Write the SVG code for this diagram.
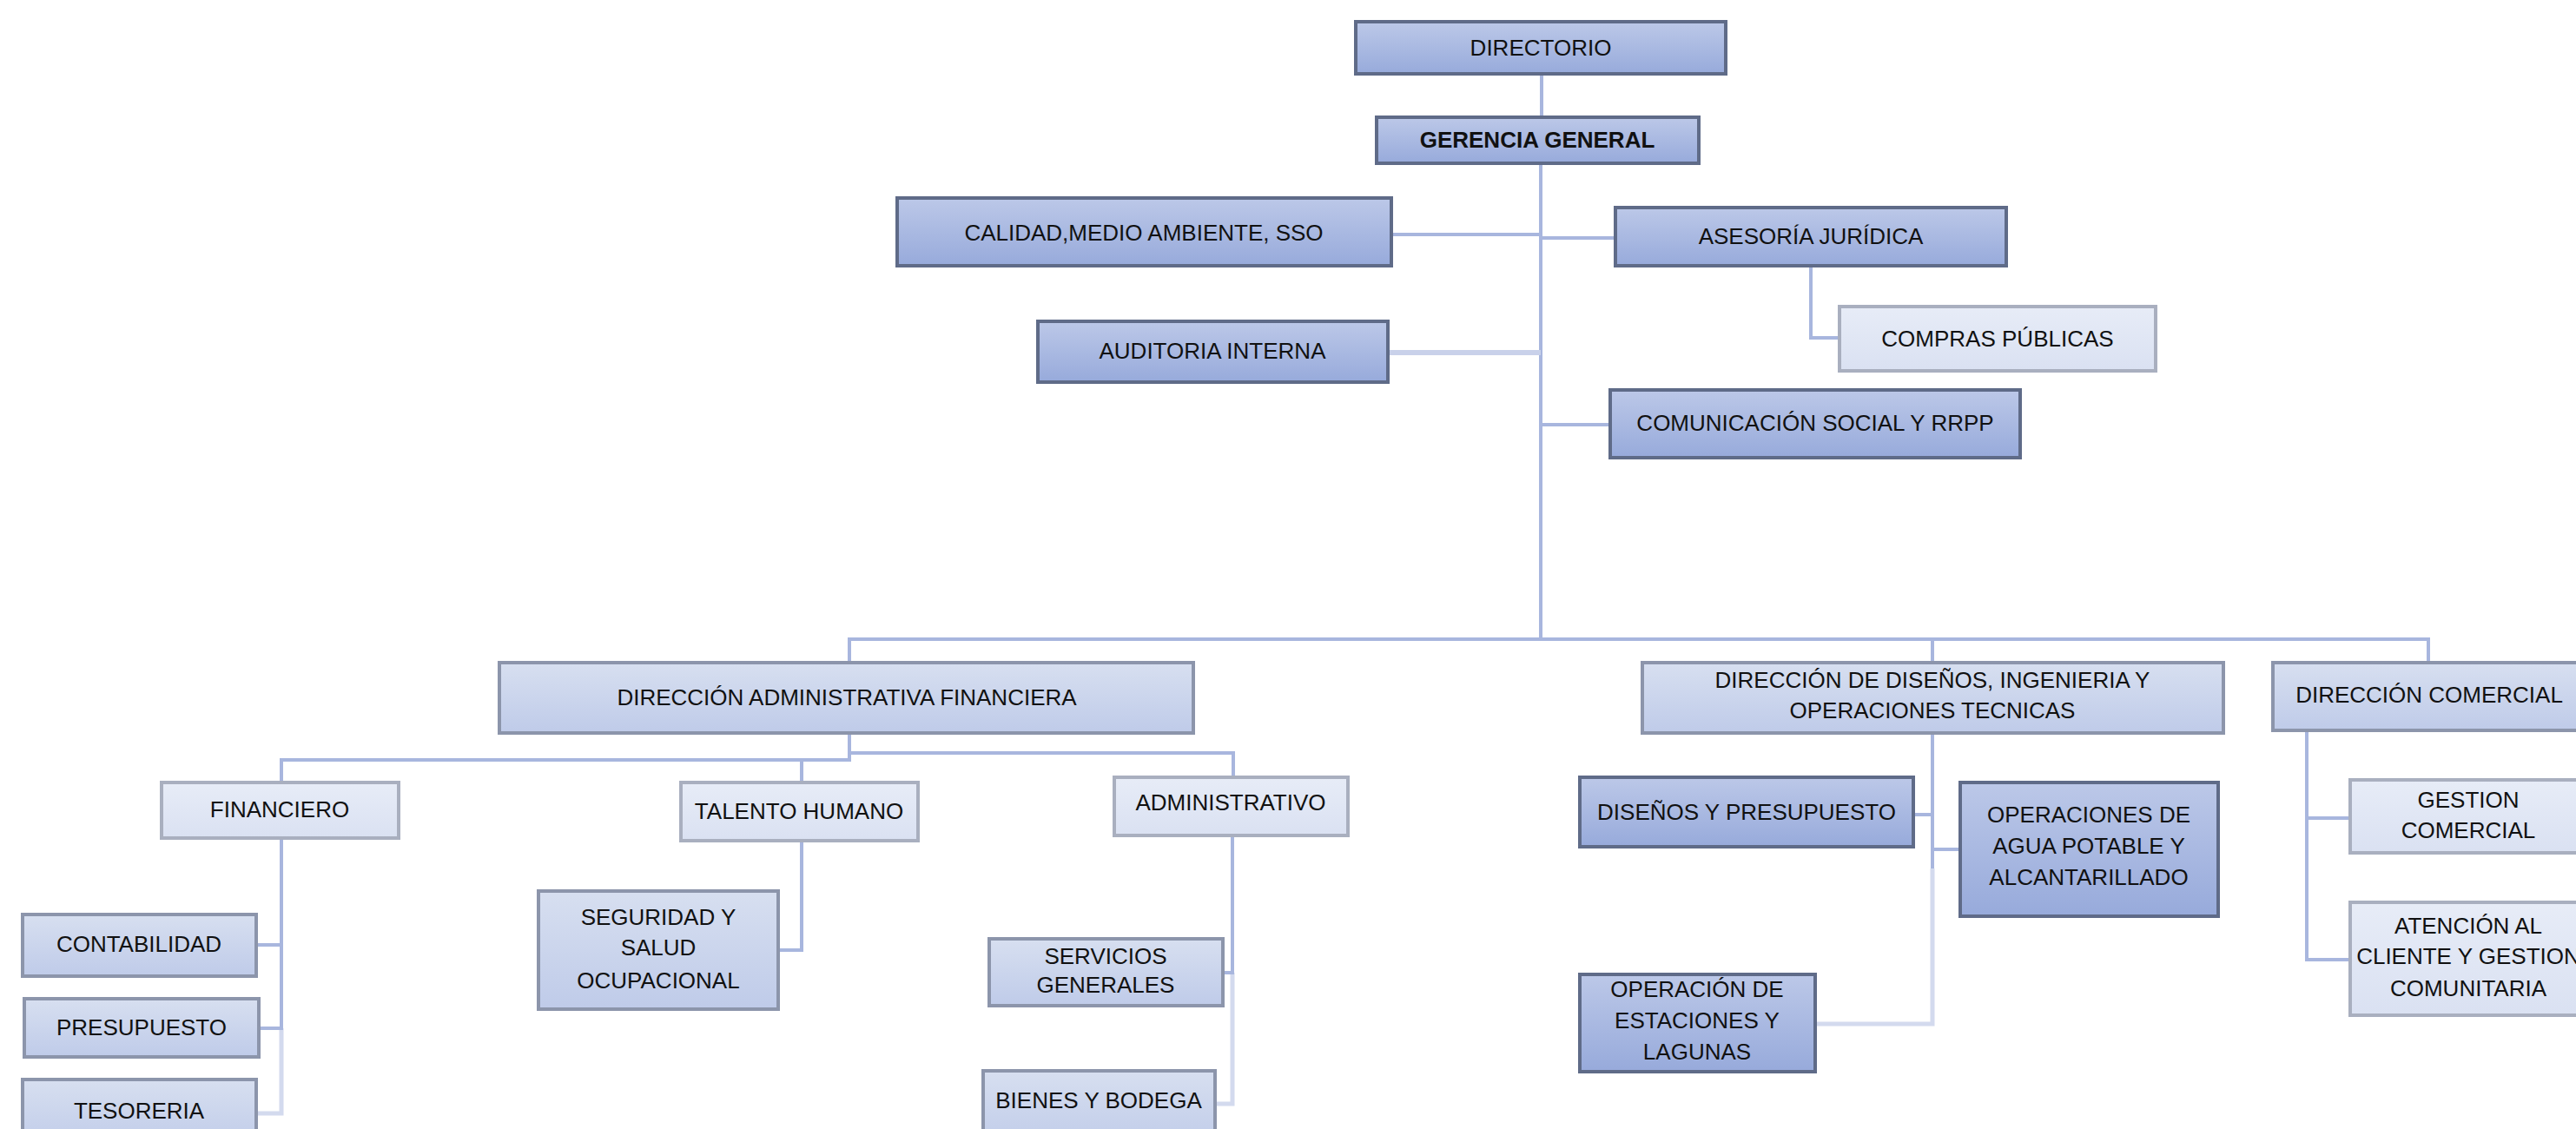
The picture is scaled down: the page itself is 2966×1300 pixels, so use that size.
<svg xmlns="http://www.w3.org/2000/svg" width="2966" height="1300" viewBox="0 0 2966 1300">
<defs>
<linearGradient id="gd" x1="0" y1="0" x2="0" y2="1"><stop offset="0" stop-color="#bcc8e8"/><stop offset="1" stop-color="#97aadb"/></linearGradient>
<linearGradient id="gm" x1="0" y1="0" x2="0" y2="1"><stop offset="0" stop-color="#d7dff0"/><stop offset="1" stop-color="#bfcbe9"/></linearGradient>
<linearGradient id="gl" x1="0" y1="0" x2="0" y2="1"><stop offset="0" stop-color="#e7ecf7"/><stop offset="1" stop-color="#dae1f2"/></linearGradient>
</defs>
<style>
.d{fill:url(#gd);stroke:#5f6b88;stroke-width:4}
.m{fill:url(#gm);stroke:#8c95ab;stroke-width:4}
.l{fill:url(#gl);stroke:#a9afbf;stroke-width:4}
text{font-family:"Liberation Sans",Arial,sans-serif;font-size:26px;fill:#111;text-anchor:middle;dominant-baseline:central}
.b{font-weight:bold}
.c{fill:none;stroke:#a8b6de;stroke-width:4}
.cl{fill:none;stroke:#c9d1ea;stroke-width:6}
.cp{fill:none;stroke:#d3daee;stroke-width:5}
</style>
<rect width="2966" height="1300" fill="#fff"/>
<g id="connectors">
<path class="c" d="M1775 85V135"/>
<path class="c" d="M1774 188V736"/>
<path class="c" d="M1602 270H1774"/>
<path class="c" d="M1774 274H1860"/>
<path class="cl" d="M1598 406H1774"/>
<path class="c" d="M1774 489H1854"/>
<path class="c" d="M2085 306V389H2118"/>
<path class="c" d="M978 763V736H2796V763"/>
<path class="c" d="M2225 736V763"/>
<path class="c" d="M978 844V875H324V901"/>
<path class="c" d="M923 875V901"/>
<path class="c" d="M978 844V867H1420V895"/>
<path class="cp" d="M324 1184V1282H295"/>
<path class="c" d="M324 965V1184H298"/>
<path class="c" d="M324 1088H295"/>
<path class="c" d="M923 968V1094H896"/>
<path class="cp" d="M1419 1120V1271H1399"/>
<path class="c" d="M1419 962V1120H1408"/>
<path class="cp" d="M2225 1000V1179H2090"/>
<path class="c" d="M2225 844V1000"/>
<path class="c" d="M2225 938H2203"/>
<path class="c" d="M2225 978H2257"/>
<path class="c" d="M2656 841V1105H2706"/>
<path class="c" d="M2656 942H2706"/>
</g>
<g id="directorio"><rect class="d" x="1561" y="25" width="426" height="60"/><text x="1774" y="55">DIRECTORIO</text></g>
<g id="gerencia"><rect class="d" x="1585" y="135" width="371" height="53"/><text class="b" x="1770" y="161">GERENCIA GENERAL</text></g>
<g id="calidad"><rect class="d" x="1033" y="228" width="569" height="78"/><text x="1317" y="268">CALIDAD,MEDIO AMBIENTE, SSO</text></g>
<g id="asesoria"><rect class="d" x="1860" y="239" width="450" height="67"/><text x="2085" y="272">ASESORÍA JURÍDICA</text></g>
<g id="compras"><rect class="l" x="2118" y="353" width="364" height="74"/><text x="2300" y="390">COMPRAS PÚBLICAS</text></g>
<g id="auditoria"><rect class="d" x="1195" y="370" width="403" height="70"/><text x="1396" y="404">AUDITORIA INTERNA</text></g>
<g id="comunicacion"><rect class="d" x="1854" y="449" width="472" height="78"/><text x="2090" y="487">COMUNICACIÓN SOCIAL Y RRPP</text></g>
<g id="daf"><rect class="m" x="575" y="763" width="799" height="81"/><text x="975" y="803">DIRECCIÓN ADMINISTRATIVA FINANCIERA</text></g>
<g id="ddi"><rect class="m" x="1891" y="763" width="669" height="81"/><text x="2225" y="783">DIRECCIÓN DE DISEÑOS, INGENIERIA Y</text><text x="2225" y="818">OPERACIONES TECNICAS</text></g>
<g id="comercial"><rect class="m" x="2617" y="763" width="362" height="78"/><text x="2797" y="800">DIRECCIÓN COMERCIAL</text></g>
<g id="financiero"><rect class="l" x="186" y="901" width="273" height="64"/><text x="322" y="932">FINANCIERO</text></g>
<g id="talento"><rect class="l" x="784" y="901" width="273" height="67"/><text x="920" y="934">TALENTO HUMANO</text></g>
<g id="administrativo"><rect class="l" x="1283" y="895" width="269" height="67"/><text x="1417" y="924">ADMINISTRATIVO</text></g>
<g id="contabilidad"><rect class="m" x="26" y="1053" width="269" height="71"/><text x="160" y="1087">CONTABILIDAD</text></g>
<g id="presupuesto"><rect class="m" x="28" y="1150" width="270" height="67"/><text x="163" y="1183">PRESUPUESTO</text></g>
<g id="tesoreria"><rect class="m" x="26" y="1243" width="269" height="80"/><text x="160" y="1279">TESORERIA</text></g>
<g id="seguridad"><rect class="m" x="620" y="1026" width="276" height="136"/><text x="758" y="1056">SEGURIDAD Y</text><text x="758" y="1091">SALUD</text><text x="758" y="1129">OCUPACIONAL</text></g>
<g id="servicios"><rect class="m" x="1139" y="1081" width="269" height="77"/><text x="1273" y="1101">SERVICIOS</text><text x="1273" y="1134">GENERALES</text></g>
<g id="bienes"><rect class="m" x="1132" y="1233" width="267" height="90"/><text x="1265" y="1267">BIENES Y BODEGA</text></g>
<g id="disenos"><rect class="d" x="1819" y="895" width="384" height="80"/><text x="2011" y="935">DISEÑOS Y PRESUPUESTO</text></g>
<g id="agua"><rect class="d" x="2257" y="901" width="297" height="154"/><text x="2405" y="938">OPERACIONES DE</text><text x="2405" y="974">AGUA POTABLE Y</text><text x="2405" y="1010">ALCANTARILLADO</text></g>
<g id="estaciones"><rect class="d" x="1819" y="1122" width="271" height="112"/><text x="1954" y="1139">OPERACIÓN DE</text><text x="1954" y="1175">ESTACIONES Y</text><text x="1954" y="1211">LAGUNAS</text></g>
<g id="gestion"><rect class="l" x="2706" y="898" width="272" height="84"/><text x="2842" y="921">GESTION</text><text x="2842" y="956">COMERCIAL</text></g>
<g id="atencion"><rect class="l" x="2706" y="1039" width="272" height="130"/><text x="2842" y="1066">ATENCIÓN AL</text><text x="2842" y="1101">CLIENTE Y GESTION</text><text x="2842" y="1138">COMUNITARIA</text></g>
</svg>
